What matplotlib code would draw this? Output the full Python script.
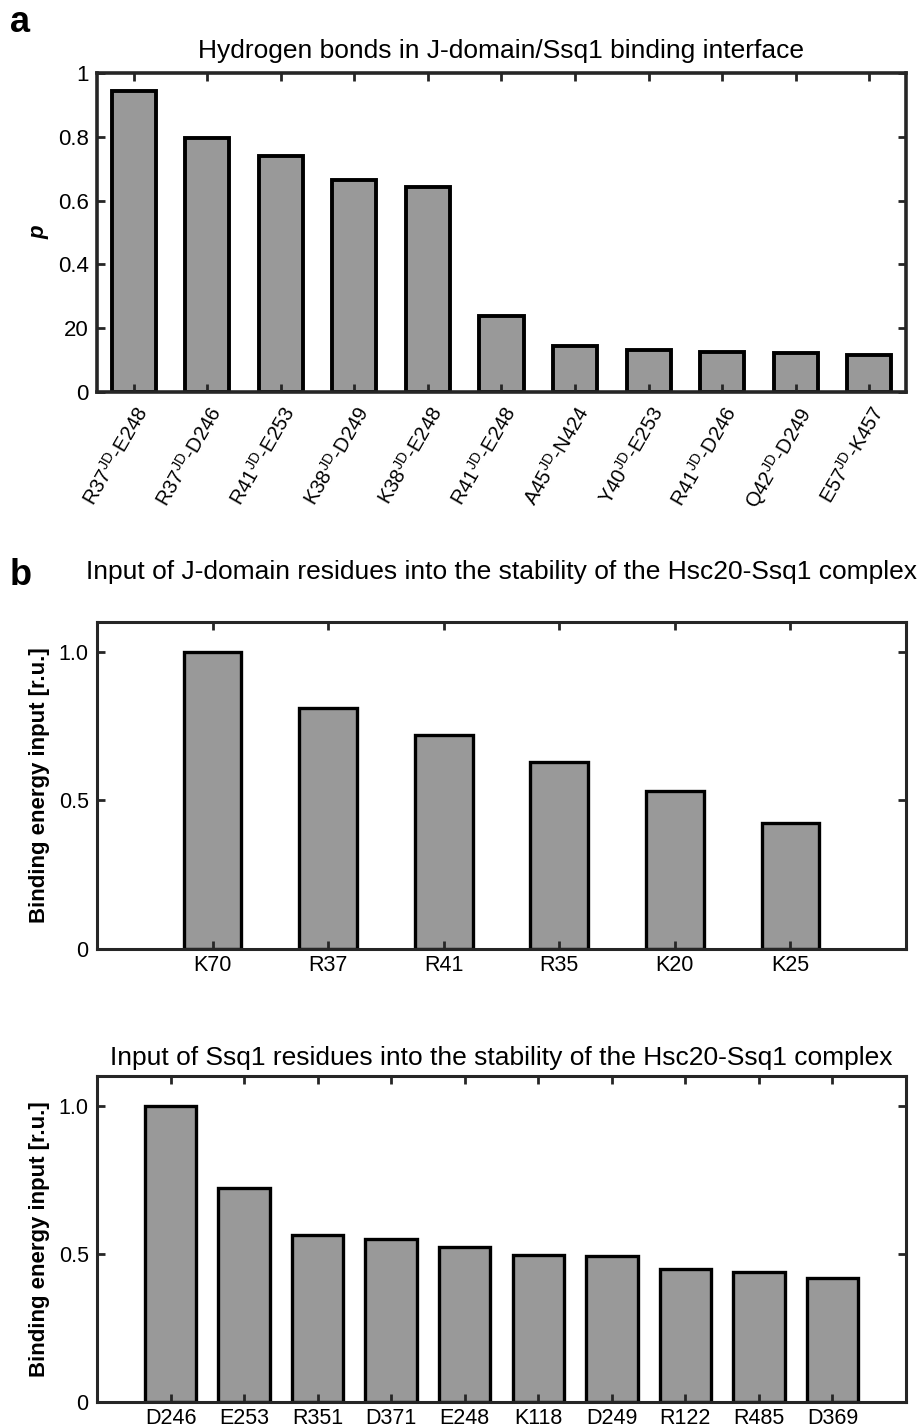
import matplotlib
matplotlib.use("Agg")
import matplotlib.pyplot as plt
import numpy as np

plt.rcParams['font.family'] = ['Liberation Sans', 'DejaVu Sans']
plt.rcParams['mathtext.fontset'] = 'custom'
plt.rcParams['mathtext.rm'] = 'Liberation Sans'
plt.rcParams['mathtext.it'] = 'Liberation Sans:italic'

# Panel a data
hb_labels = [r'R37$^{\mathrm{JD}}$-E248', r'R37$^{\mathrm{JD}}$-D246', r'R41$^{\mathrm{JD}}$-E253',
             r'K38$^{\mathrm{JD}}$-D249', r'K38$^{\mathrm{JD}}$-E248', r'R41$^{\mathrm{JD}}$-E248',
             r'A45$^{\mathrm{JD}}$-N424', r'Y40$^{\mathrm{JD}}$-E253', r'R41$^{\mathrm{JD}}$-D246',
             r'Q42$^{\mathrm{JD}}$-D249', r'E57$^{\mathrm{JD}}$-K457']
hb_values = [0.945, 0.796, 0.74, 0.664, 0.642, 0.238, 0.144, 0.132, 0.125, 0.122, 0.116]
hb_yticks = [0, 0.2, 0.4, 0.6, 0.8, 1]
hb_yticklabels = ['0', '20', '0.4', '0.6', '0.8', '1']

# Panel b (J-domain)
jd_labels = ['K70', 'R37', 'R41', 'R35', 'K20', 'K25']
jd_values = [1.0, 0.81, 0.72, 0.63, 0.533, 0.423]

# Panel b (Ssq1)
ssq_labels = ['D246', 'E253', 'R351', 'D371', 'E248', 'K118', 'D249', 'R122', 'R485', 'D369']
ssq_values = [1.0, 0.723, 0.563, 0.55, 0.523, 0.497, 0.493, 0.45, 0.437, 0.42]

b_yticks = [0, 0.5, 1.0]
b_yticklabels = ['0', '0.5', '1.0']

W, H = 924, 1427
fig = plt.figure(figsize=(W/100, H/100), dpi=100)

def ax_from_px(l, t, r, b):
    return fig.add_axes([l/W, 1-b/H, (r-l)/W, (b-t)/H])

spine_c = '#262626'
face = '#999999'

def style(ax, lw=2.2, ls=15.5):
    for s in ax.spines.values():
        s.set_linewidth(lw)
        s.set_color(spine_c)
    ax.tick_params(direction='in', length=6, width=2, color=spine_c,
                   top=True, right=True, labelsize=ls, pad=6)

# Panel a
ax1 = ax_from_px(97, 73, 906, 392)
x1 = np.arange(1, len(hb_values)+1)
ax1.bar(x1, hb_values, width=0.6, color=face, edgecolor='black', linewidth=2.8)
ax1.set_xlim(0.5, len(hb_values)+0.5)
ax1.set_ylim(0, 1)
ax1.set_yticks(hb_yticks)
ax1.set_yticklabels(hb_yticklabels)
ax1.set_xticks(x1)
ax1.set_xticklabels(hb_labels, rotation=60, ha='right', rotation_mode='anchor')
style(ax1, 2.6, 16)
ax1.tick_params(axis='x', labelsize=14.5, pad=8)
ax1.set_ylabel('p', fontsize=16, fontweight='bold', fontstyle='italic', labelpad=6)
ax1.set_title('Hydrogen bonds in J-domain/Ssq1 binding interface', fontsize=19, pad=11)
fig.text(10/W, 1-32/H, 'a', fontsize=26, fontweight='bold', va='baseline')

# Panel b top
ax2 = ax_from_px(97, 622, 906, 949)
x2 = np.arange(1, len(jd_values)+1)
ax2.bar(x2, jd_values, width=0.5, color=face, edgecolor='black', linewidth=2.4)
ax2.set_xlim(0, len(jd_values)+1)
ax2.set_ylim(0, 1.1)
ax2.set_yticks(b_yticks)
ax2.set_yticklabels(b_yticklabels)
ax2.set_xticks(x2)
ax2.set_xticklabels(jd_labels)
style(ax2)
ax2.tick_params(axis='x', pad=4)
ax2.set_ylabel('Binding energy input [r.u.]', fontsize=16, fontweight='bold', labelpad=6)
ax2.set_title('Input of J-domain residues into the stability of the Hsc20-Ssq1 complex',
              fontsize=19, pad=31)
fig.text(10/W, 1-585/H, 'b', fontsize=26, fontweight='bold', va='baseline')

# Panel b bottom
ax3 = ax_from_px(97, 1076, 906, 1402)
x3 = np.arange(1, len(ssq_values)+1)
ax3.bar(x3, ssq_values, width=0.7, color=face, edgecolor='black', linewidth=2.4)
ax3.set_xlim(0, len(ssq_values)+1)
ax3.set_ylim(0, 1.1)
ax3.set_yticks(b_yticks)
ax3.set_yticklabels(b_yticklabels)
ax3.set_xticks(x3)
ax3.set_xticklabels(ssq_labels)
style(ax3)
ax3.tick_params(axis='x', pad=4)
ax3.set_ylabel('Binding energy input [r.u.]', fontsize=16, fontweight='bold', labelpad=6)
ax3.set_title('Input of Ssq1 residues into the stability of the Hsc20-Ssq1 complex',
              fontsize=19, pad=8)

fig.savefig('out.png', dpi=100)
